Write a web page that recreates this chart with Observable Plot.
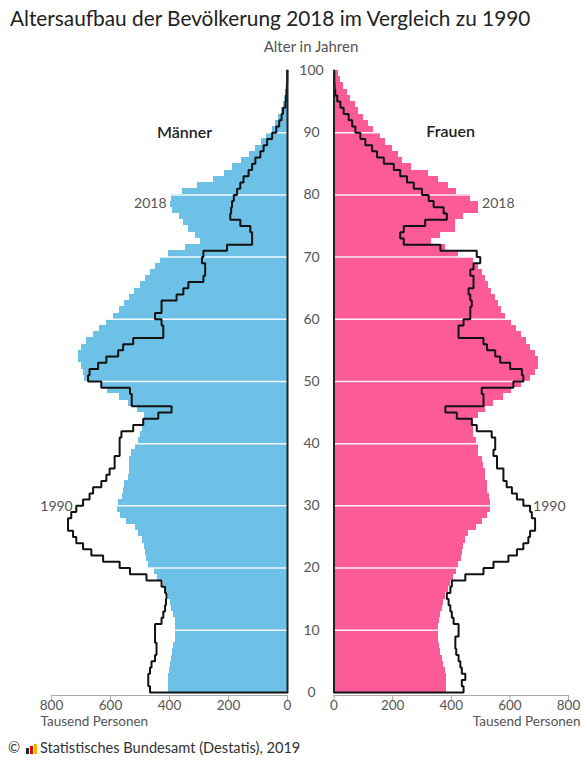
<!DOCTYPE html>
<html><head><meta charset="utf-8">
<script src="https://cdn.jsdelivr.net/npm/d3@7"></script>
<script src="https://cdn.jsdelivr.net/npm/@observablehq/plot@0.6"></script>
<style>
body{margin:0;width:582px;height:762px;overflow:hidden;position:relative;font-family:Lato,"Open Sans",sans-serif;background:#fff;}
#title{position:absolute;left:10px;top:5px;font-size:20.8px;color:#222;white-space:nowrap;}
#sub{position:absolute;left:311px;top:37px;transform:translateX(-50%);font-size:15px;color:#555;white-space:nowrap;}
#left{position:absolute;left:0;top:60px;}
#right{position:absolute;left:290px;top:60px;}
#foot{position:absolute;left:8px;top:739px;font-size:14.6px;color:#333;white-space:nowrap;}
.logo{display:inline-block;width:11px;height:10px;margin:0 3px 0 2px;vertical-align:-1px;position:relative;}
.logo span{position:absolute;bottom:0;width:3px;}
</style></head><body>
<div id="title">Altersaufbau der Bevölkerung 2018 im Vergleich zu 1990</div>
<div id="sub">Alter in Jahren</div>
<div id="left"></div>
<div id="right"></div>
<div id="foot">© <span class="logo"><span style="left:0;height:6px;background:#222"></span><span style="left:4px;height:8px;background:#d00"></span><span style="left:8px;height:10px;background:#f2b800"></span></span>Statistisches Bundesamt (Destatis), 2019</div>
<script>
// ages 0..99 (one bar per year of age)
const ages = d3.range(0, 100);
const maenner2018 = [404,404,402,400,395,392,390,385,380,378,
 378,380,388,392,395,405,412,420,440,452,
 470,478,482,486,490,505,515,545,565,575,
 572,560,557,552,540,536,534,534,530,515,
 505,500,492,488,485,510,540,570,610,635,
 688,690,699,710,710,699,682,659,637,614,
 591,569,552,534,517,500,483,466,449,432,
 405,345,296,313,336,353,365,390,398,393,
 355,305,250,215,185,155,130,108,88,70,
 52,40,30,22,15,11,7,5,3,2];
const maenner1990 = [466,472,472,466,461,449,444,444,449,449,
 449,427,421,415,412,410,415,427,478,534,
 569,625,665,693,716,727,744,744,733,716,
 693,671,659,631,614,603,586,586,569,569,
 569,563,523,489,438,393,528,528,534,631,
 676,671,642,614,574,557,523,421,421,427,
 449,427,427,376,353,336,285,279,279,290,
 285,205,120,120,126,160,194,191,188,182,
 171,160,149,132,120,109,92,81,69,52,
 38,28,20,15,7,5,3,2,1,1];
const frauen2018 = [385,385,383,380,374,369,363,360,357,357,
 357,360,363,369,374,380,391,397,408,417,
 425,436,440,442,448,459,487,505,522,533,
 533,531,522,522,516,516,510,505,493,493,
 487,476,476,476,493,516,544,578,607,641,
 669,686,697,697,686,669,658,641,624,607,
 584,573,561,550,538,527,516,505,493,476,
 425,380,334,363,414,414,442,493,493,465,
 419,391,357,323,266,232,221,198,175,158,
 136,118,100,82,73,56,45,33,22,16];
const frauen1990 = [442,436,448,436,431,425,417,414,414,425,
 425,408,402,397,391,385,397,402,448,510,
 544,595,624,646,663,669,686,686,675,669,
 646,624,607,589,578,578,556,556,544,550,
 550,538,487,470,419,380,510,510,504,612,
 646,641,601,567,550,522,510,425,425,442,
 465,465,470,465,459,476,476,465,476,499,
 487,363,238,226,238,311,385,374,340,323,
 300,272,249,226,204,170,147,130,107,90,
 73,62,50,33,22,11,4,2,1,1];
const xTicks = [0, 200, 400, 600, 800];
const yTicks = [0, 10, 20, 30, 40, 50, 60, 70, 80, 90, 100];
const gridAges = [10, 20, 30, 40, 50, 60, 70, 80, 90];
const axisLabel = "Tausend Personen";
// annotations (text, value in thousand, age)
const labelsMen = [{text: "Männer", v: 349, age: 89.9}];
const labelsMenYears = [{text: "2018", v: 410, age: 78.6}, {text: "1990", v: 728, age: 29.9}];
const labelsWomen = [{text: "Frauen", v: 398, age: 90.1}];
const labelsWomenYears = [{text: "2018", v: 505, age: 78.6}, {text: "1990", v: 679, age: 29.9}];

const BLUE = "#6dc1e6", PINK = "#fd5a98";

function rows(values) { return ages.map((a, i) => ({age: a, v: values[i]})); }
function stepPoints(values) {
  const pts = [{x: 0, y: 0}];
  ages.forEach((a, i) => { pts.push({x: values[i], y: a}); pts.push({x: values[i], y: a + 1}); });
  pts.push({x: 0, y: 100});
  return pts;
}

function panel({v18, v90, fill, left, names, years}) {
  const marks = [
    Plot.rect(rows(v18), {x1: 0, x2: "v", y1: "age", y2: d => d.age + 1, fill, shapeRendering: "crispEdges"}),
    Plot.ruleY(gridAges, {stroke: "white", strokeWidth: 1.5, strokeOpacity: 0.9}),
    Plot.line(stepPoints(v90), {x: "x", y: "y", stroke: "#111", strokeWidth: 2, strokeLinejoin: "miter"}),
    Plot.ruleX([0], {y1: 0, y2: 100, stroke: "#222", strokeWidth: 2}),
    Plot.frame({anchor: "bottom", stroke: "#aaa"}),
    Plot.axisX(xTicks, {tickSize: 5, tickPadding: 0, stroke: "#aaa", fill: "#555", fontSize: 13.5, label: null}),
    Plot.text(names, {x: "v", y: "age", text: "text", fill: "#222", fontSize: 16, fontWeight: 600}),
    Plot.text(years, {x: "v", y: "age", text: "text", fill: "#555", fontSize: 14, textAnchor: left ? "end" : "start"}),
    Plot.text([axisLabel], {frameAnchor: left ? "bottom-left" : "bottom-right", dx: left ? -11 : 12, dy: 30,
      textAnchor: left ? "start" : "end", fill: "#555", fontSize: 13.5})
  ];
  if (!left) marks.push(Plot.axisY(yTicks, {anchor: "left", tickSize: 0, tickPadding: 22.5, textAnchor: "middle", fill: "#555", label: null}));
  return Plot.plot({
    width: left ? 290 : 292,
    height: 675,
    marginTop: 10,
    marginBottom: 40,
    marginLeft: left ? 51 : 43.5,
    marginRight: left ? 3 : 14,
    x: {domain: left ? [800, 0] : [0, 800]},
    y: {domain: [-0.5, 100], axis: left ? null : undefined},
    style: {fontFamily: "Lato, 'Open Sans', sans-serif", fontSize: "14px", color: "#555", background: "transparent", overflow: "visible"},
    marks
  });
}

document.getElementById("left").append(panel({v18: maenner2018, v90: maenner1990, fill: BLUE, left: true, names: labelsMen, years: labelsMenYears}));
document.getElementById("right").append(panel({v18: frauen2018, v90: frauen1990, fill: PINK, left: false, names: labelsWomen, years: labelsWomenYears}));
</script>
</body></html>
